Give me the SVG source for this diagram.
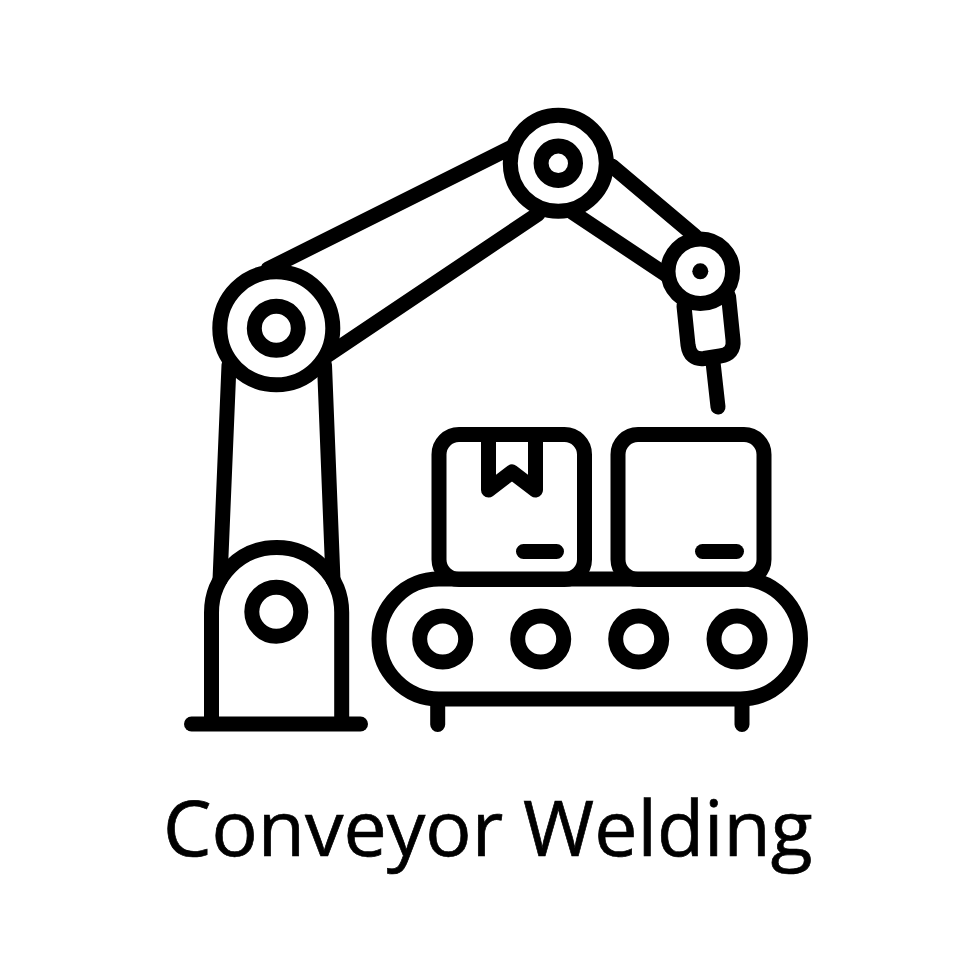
<svg xmlns="http://www.w3.org/2000/svg" width="980" height="980" viewBox="0 0 980 980">
<style>
.l{fill:none;stroke:#000;stroke-width:15;stroke-linecap:round;stroke-linejoin:round}
.f{fill:#fff;stroke:#000;stroke-width:15;stroke-linejoin:round}
text{font-family:"Open Sans","Noto Sans",sans-serif;font-size:77px;fill:#000;stroke:#000;stroke-width:.7px}
</style>
<rect width="980" height="980" fill="#fff"/>
<g id="connectors">
<path class="l" d="M268 269L510 148M325 357L538 214M612 166L695 236M572 212L668 276"/>
<path class="l" d="M229 365L220 580M324.500 365L333 580"/>
</g>
<g id="base"><path class="l" d="M211.500 722V612.500A65 65 0 0 1 341.700 612.500V722"/><circle class="l" cx="276.300" cy="611.700" r="24.500"/><path class="l" d="M191.500 724H360.500"/></g>
<g id="shoulder"><circle class="f" cx="276.300" cy="328.300" r="56.500"/><circle class="l" cx="276.300" cy="328.300" r="22"/></g>
<g id="elbow"><circle class="f" cx="558.300" cy="163.300" r="48"/><circle class="l" cx="558.300" cy="163.300" r="17.200"/></g>
<g id="wrist"><path class="l" d="M684 306L688 345Q690 360 704 358.500L720 356Q734.500 354 733 340L728.500 296"/><circle class="f" cx="700.300" cy="271.300" r="32.300"/><circle cx="700.300" cy="271.300" r="8"/><path class="l" d="M713 362L718 407"/></g>
<g id="box1"><rect class="l" x="439" y="434.500" width="145.500" height="145" rx="20"/><path class="l" d="M488.500 436V490L512 472L535.500 490V436M523.500 551.500H556.500"/></g>
<g id="box2"><rect class="l" x="618" y="434.500" width="146" height="145" rx="20"/><path class="l" d="M702.500 551.500H736.500"/></g>
<g id="conveyor"><rect class="l" x="379" y="579" width="421.500" height="120" rx="60"/>
<circle class="l" cx="442.700" cy="639" r="23"/><circle class="l" cx="540.700" cy="639" r="23"/><circle class="l" cx="638.700" cy="639" r="23"/><circle class="l" cx="737" cy="639" r="23"/>
<path class="l" d="M437.700 702V724.500M742 702V724.500"/></g>
<text x="163" y="856">Conveyor Welding</text>
</svg>
